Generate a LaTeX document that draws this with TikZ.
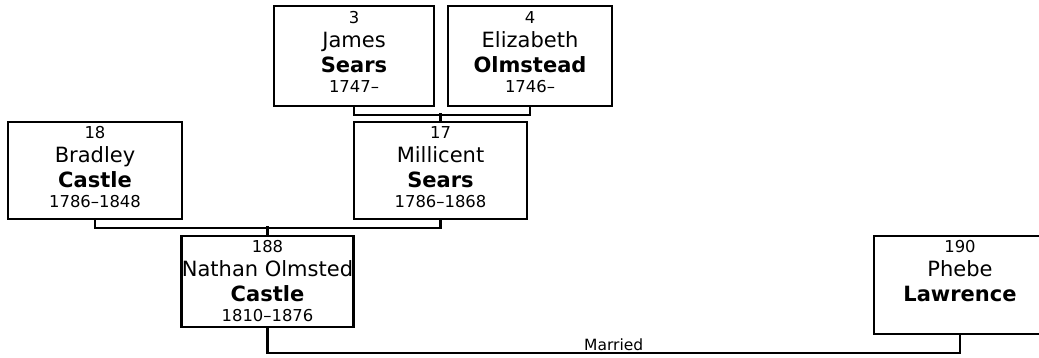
\documentclass[tikz,border=0pt]{standalone}
\usepackage{fontspec}
\setmainfont{DejaVu Sans}
\usetikzlibrary{calc,positioning}
\tikzset{
  card/.style={rectangle, draw=black, line width=2.2pt, inner sep=0pt, fill=white},
  cardText/.style={anchor=north, inner sep=0pt, align=center, font=\fontsize{21}{24.5}\selectfont},
  link/.style={draw=black, line width=2.2pt},
  linkLabel/.style={font=\fontsize{15.5}{18}\selectfont, inner sep=1.5pt}
}
\newcommand{\cardNum}[1]{{\fontsize{16.4}{18}\selectfont #1}}

\begin{document}
\begin{tikzpicture}[x=1pt,y=-1pt]
\clip (0,0) rectangle (1039,358);

% --------------------------------------------------------------------------
% Grandparents
% --------------------------------------------------------------------------
\node[card, minimum width=160, minimum height=100] (james) at (354,56) {};
\node[cardText] (jamesText) at ($(james.north)+(0,6)$) {\cardNum{3}\\James\\\textbf{Sears}\\[-4.5pt]\cardNum{1747–}};
\node[card, minimum width=164, minimum height=100] (eliz) at (530,56) {};
\node[cardText] (elizText) at ($(eliz.north)+(0,6)$) {\cardNum{4}\\Elizabeth\\\textbf{Olmstead}\\[-4.5pt]\cardNum{1746–}};

% --------------------------------------------------------------------------
% Parents
% --------------------------------------------------------------------------
\node[card, minimum width=174, minimum height=97] (bradley) at (95,170.5) {};
\node[cardText] (bradleyText) at ($(bradley.north)+(0,5)$) {\cardNum{18}\\Bradley\\\textbf{Castle}\\[-4.5pt]\cardNum{1786–1848}};
\node[card, minimum width=173, minimum height=97] (millicent) at (440.5,170.5) {};
\node[cardText] (millicentText) at ($(millicent.north)+(0,5)$) {\cardNum{17}\\Millicent\\\textbf{Sears}\\[-4.5pt]\cardNum{1786–1868}};

% --------------------------------------------------------------------------
% Couple
% --------------------------------------------------------------------------
\node[card, minimum width=172, minimum height=91] (nathan) at (267.5,281.5) {};
\node[cardText] (nathanText) at ($(nathan.north)+(0,5)$) {\cardNum{188}\\Nathan Olmsted\\\textbf{Castle}\\[-4.5pt]\cardNum{1810–1876}};
\node[card, minimum width=172, minimum height=98] (phebe) at (960,285) {};
\node[cardText] (phebeText) at ($(phebe.north)+(0,5)$) {\cardNum{190}\\Phebe\\\textbf{Lawrence}};

% connectors
\draw[link] (james.south) -- ++(0,8) -| (eliz.south);
\draw[link] (millicent.north) -- ++(0,-8);
\draw[link] (bradley.south) -- ++(0,8) -| (millicent.south);
\draw[link] (nathan.north) -- ++(0,-9);
\draw[link] (nathan.south) -- ++(0,25) -| node[linkLabel, pos=0.25, above] (marriedLabel) {Married} (phebe.south);

\end{tikzpicture}
\end{document}
